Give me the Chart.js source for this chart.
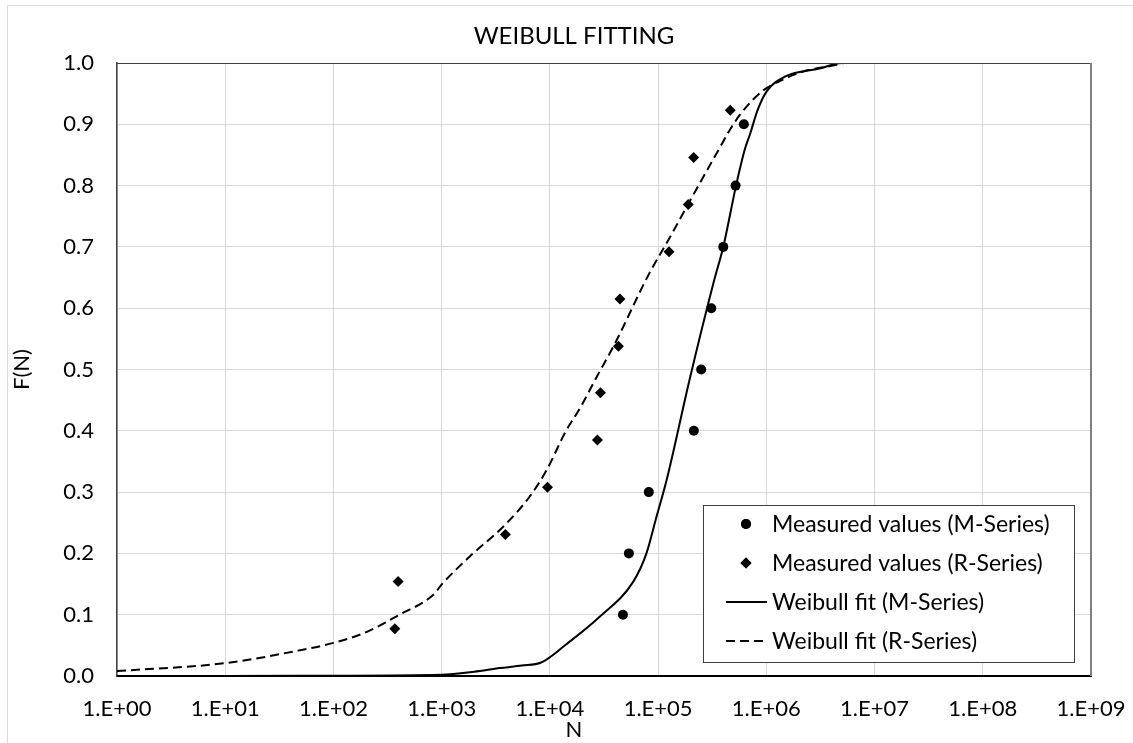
<!DOCTYPE html>
<html><head><meta charset="utf-8">
<script src="https://cdn.jsdelivr.net/npm/chart.js@4.4.1/dist/chart.umd.min.js"></script>
<style>html,body{margin:0;padding:0;background:#fff;overflow:hidden}</style>
</head><body>
<canvas id="c" width="1133" height="743"></canvas>
<script>
const titleText = 'WEIBULL FITTING';
const xTitle = 'N';
const yTitle = 'F(N)';
const seriesNames = ['Measured values (M-Series)', 'Measured values (R-Series)', 'Weibull fit (M-Series)', 'Weibull fit (R-Series)'];
const xTickValues = [1, 1e1, 1e2, 1e3, 1e4, 1e5, 1e6, 1e7, 1e8, 1e9];
const xTickLabels = ['1.E+00','1.E+01','1.E+02','1.E+03','1.E+04','1.E+05','1.E+06','1.E+07','1.E+08','1.E+09'];
const yTickValues = [0, 0.1, 0.2, 0.3, 0.4, 0.5, 0.6, 0.7, 0.8, 0.9, 1.0];
const yTickLabels = ['0.0','0.1','0.2','0.3','0.4','0.5','0.6','0.7','0.8','0.9','1.0'];

const mMeasuredN = [47300, 53700, 82000, 214000, 250000, 310000, 400000, 520000, 620000];
const mMeasuredF = [0.1, 0.2, 0.3, 0.4, 0.5, 0.6, 0.7, 0.8, 0.9];
const rMeasuredN = [369, 396, 3880, 9500, 27500, 29300, 43000, 44400, 126000, 190000, 213000, 464000];
const rMeasuredF = [0.077, 0.154, 0.231, 0.308, 0.385, 0.462, 0.538, 0.615, 0.692, 0.769, 0.846, 0.923];

const mFitN = [1, 10, 100, 1000, 2000, 3450, 5500, 8300, 14000, 29000, 59000, 78000, 95000, 120000, 195000, 330000, 400000, 525000, 630000, 710000, 830000, 1000000, 1500000, 3100000, 5000000, 510000000];
const mFitF = [0, 0, 0.0005, 0.002, 0.007, 0.013, 0.017, 0.022, 0.051, 0.097, 0.154, 0.2, 0.255, 0.32, 0.483, 0.646, 0.7, 0.8, 0.858, 0.885, 0.923, 0.953, 0.978, 0.991, 1.0, 1.0];
const rFitN = [1, 10, 49, 100, 204, 407, 832, 1020, 1820, 3720, 6460, 9330, 14100, 19000, 26900, 39800, 81300, 126000, 224000, 372000, 457000, 562000, 750000, 930000, 1070000, 2190000, 4470000, 5250000, 510000000];
const rFitF = [0.008, 0.021, 0.042, 0.054, 0.072, 0.1, 0.132, 0.151, 0.195, 0.244, 0.292, 0.336, 0.4, 0.437, 0.487, 0.542, 0.654, 0.713, 0.793, 0.862, 0.89, 0.914, 0.94, 0.955, 0.962, 0.986, 0.997, 1.0, 1.0];

const FONT = 'Lato, "Open Sans", sans-serif';
const pairs = (xs, ys) => xs.map((x, i) => ({x: x, y: ys[i]}));

const framePlugin = {
  id: 'frame',
  beforeDraw(chart) {
    const ctx = chart.ctx;
    ctx.save();
    ctx.fillStyle = '#fff';
    ctx.fillRect(0, 0, chart.width, chart.height);
    ctx.strokeStyle = '#d9d9d9';
    ctx.lineWidth = 1;
    ctx.beginPath();
    ctx.moveTo(7.5, chart.height);
    ctx.lineTo(7.5, 5.5);
    ctx.lineTo(chart.width, 5.5);
    ctx.stroke();
    ctx.restore();
  },
  afterDatasetsDraw(chart) {
    const ctx = chart.ctx;
    const a = chart.chartArea;
    ctx.save();
    ctx.strokeStyle = '#404040';
    ctx.lineWidth = 1;
    ctx.beginPath();
    ctx.moveTo(a.left, a.top + 0.5);
    ctx.lineTo(a.right, a.top + 0.5);
    ctx.stroke();
    ctx.strokeStyle = '#808080';
    ctx.lineWidth = 2;
    ctx.beginPath();
    ctx.moveTo(a.right, a.top);
    ctx.lineTo(a.right, a.bottom);
    ctx.stroke();
    ctx.fillStyle = '#000';
    ctx.textAlign = 'center';
    ctx.textBaseline = 'middle';
    ctx.font = '24px ' + FONT;
    ctx.fillText(titleText, 574, 36);
    ctx.font = '22px ' + FONT;
    ctx.fillText(xTitle, 574, 730);
    ctx.save();
    ctx.translate(22, (a.top + a.bottom) / 2);
    ctx.rotate(-Math.PI / 2);
    ctx.fillText(yTitle, 0, 0);
    ctx.restore();
    const L = {x: 703.5, y: 505.5, w: 371, h: 157};
    ctx.fillStyle = '#fff';
    ctx.fillRect(L.x, L.y, L.w, L.h);
    ctx.strokeStyle = '#404040';
    ctx.lineWidth = 1;
    ctx.strokeRect(L.x, L.y, L.w, L.h);
    const rowY = [524, 563, 602, 641];
    ctx.font = '23px ' + FONT;
    ctx.textAlign = 'left';
    ctx.textBaseline = 'middle';
    chart.data.datasets.forEach((ds, i) => {
      const y = rowY[i];
      ctx.fillStyle = '#000';
      ctx.strokeStyle = '#000';
      if (ds.showLine) {
        ctx.lineWidth = 2;
        ctx.setLineDash(ds.borderDash || []);
        ctx.beginPath();
        ctx.moveTo(726, y);
        ctx.lineTo(767, y);
        ctx.stroke();
        ctx.setLineDash([]);
      } else {
        Chart.helpers.drawPoint(ctx, {pointStyle: ds.pointStyle, radius: ds.pointRadius, borderWidth: 0}, 746, y);
        ctx.fill();
      }
      ctx.fillStyle = '#000';
      ctx.fillText(ds.label, 772, y + 1);
    });
    ctx.restore();
  }
};

const tickFont = {family: FONT, size: 22};

new Chart(document.getElementById('c'), {
  type: 'scatter',
  data: {
    datasets: [
      {label: seriesNames[0], data: pairs(mMeasuredN, mMeasuredF), pointStyle: 'circle', pointRadius: 5, pointBorderWidth: 0, backgroundColor: '#000', borderColor: '#000', showLine: false},
      {label: seriesNames[1], data: pairs(rMeasuredN, rMeasuredF), pointStyle: 'rectRot', pointRadius: 5.5, pointBorderWidth: 0, backgroundColor: '#000', borderColor: '#000', showLine: false},
      {label: seriesNames[2], data: pairs(mFitN, mFitF), showLine: true, pointRadius: 0, borderColor: '#000', borderWidth: 2, cubicInterpolationMode: 'monotone'},
      {label: seriesNames[3], data: pairs(rFitN, rFitF), showLine: true, pointRadius: 0, borderColor: '#000', borderWidth: 2, borderDash: [9, 5], cubicInterpolationMode: 'monotone'}
    ]
  },
  options: {
    responsive: false,
    animation: false,
    devicePixelRatio: 1,
    layout: {padding: {top: 63, right: 42, left: 0, bottom: 0}},
    plugins: {legend: {display: false}, title: {display: false}, tooltip: {enabled: false}},
    scales: {
      x: {
        type: 'logarithmic', min: 1, max: 1e9,
        afterBuildTicks: s => { s.ticks = xTickValues.map(v => ({value: v})); },
        afterFit: s => { s.height = 67; s.paddingLeft = 0; s.paddingRight = 0; },
        ticks: {callback: (v) => xTickLabels[xTickValues.indexOf(v)] ?? '', padding: 20, font: tickFont, color: '#000', autoSkip: false, maxRotation: 0},
        grid: {color: '#d9d9d9', drawTicks: false},
        border: {color: '#000', width: 2}
      },
      y: {
        min: 0, max: 1,
        afterBuildTicks: s => { s.ticks = yTickValues.map(v => ({value: v})); },
        afterFit: s => { s.width = 117; s.paddingTop = 0; s.paddingBottom = 0; },
        ticks: {callback: (v) => yTickLabels[yTickValues.findIndex(t => Math.abs(t - v) < 1e-9)] ?? '', padding: 23, font: tickFont, color: '#000'},
        grid: {color: '#d9d9d9', drawTicks: false},
        border: {color: '#404040', width: 1.5}
      }
    }
  },
  plugins: [framePlugin]
});
</script>
</body></html>
